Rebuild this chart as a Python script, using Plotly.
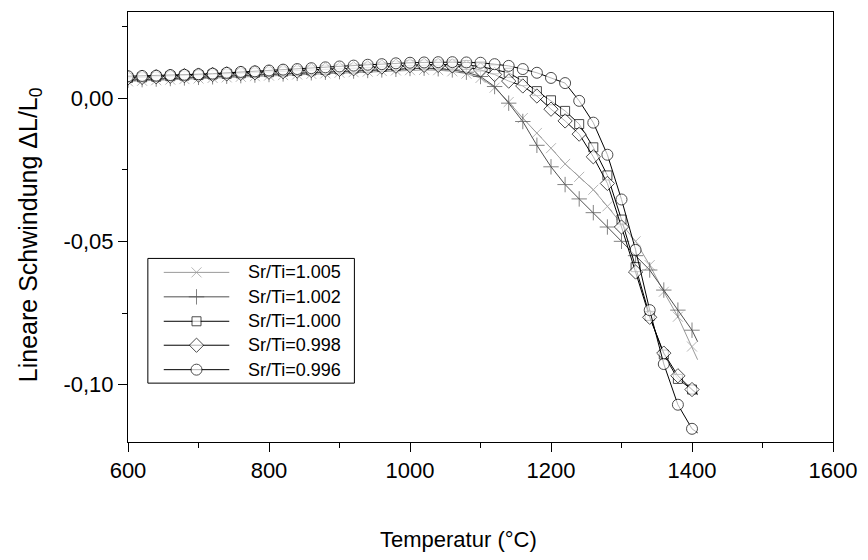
import plotly.graph_objects as go

temps = [600, 620, 640, 660, 680, 700, 720, 740, 760, 780, 800, 820, 840, 860, 880,
         900, 920, 940, 960, 980, 1000, 1020, 1040, 1060, 1080, 1100, 1120, 1140, 1160,
         1180, 1200, 1220, 1240, 1260, 1280, 1300, 1320, 1340, 1360, 1380, 1400, 1408]

s1005 = [.0058, .0060, .0062, .0064, .0066, .0068, .0070, .0072, .0074, .0076, .0078, .0080,
         .0082, .0084, .0086, .0088, .0090, .0092, .0094, .0096, .0097, .0098, .0097, .0093,
         .0085, .0070, .0036, -.0014, -.0070, -.0122, -.0175, -.0230, -.0275, -.0320, -.0378,
         -.0440, -.0500, -.0583, -.0676, -.0763, -.0867, -.0913]

s1002 = [.0062, .0064, .0066, .0068, .0070, .0072, .0074, .0076, .0078, .0080, .0082, .0084,
         .0086, .0088, .0090, .0092, .0094, .0096, .0098, .0100, .0103, .0104, .0102, .0098,
         .0090, .0075, .0040, -.0018, -.0082, -.0165, -.0240, -.0302, -.0352, -.0400, -.0450,
         -.0500, -.0550, -.0600, -.0670, -.0740, -.0810, -.0850]

s1000 = [.0070, .0072, .0074, .0076, .0078, .0080, .0082, .0084, .0086, .0088, .0090, .0092,
         .0094, .0096, .0098, .0100, .0103, .0106, .0109, .0112, .0115, .0116, .0117, .0117,
         .0115, .0110, .0100, .0088, .0059, .0024, -.0008, -.0045, -.0091, -.0172, -.0270,
         -.0424, -.0590, -.0760, -.0895, -.0980, -.1017, -.1030]

s0998 = [.0070, .0072, .0074, .0076, .0078, .0080, .0082, .0084, .0086, .0088, .0090, .0092,
         .0094, .0096, .0098, .0100, .0102, .0105, .0108, .0111, .0113, .0114, .0114, .0112,
         .0108, .0098, .0082, .0059, .0042, .0007, -.0039, -.0080, -.0126, -.0205, -.0298,
         -.0450, -.0607, -.0765, -.0890, -.0969, -.1017, -.1035]

s0996 = [.0076, .0077, .0078, .0080, .0081, .0083, .0085, .0088, .0091, .0093, .0096, .0099,
         .0101, .0104, .0107, .0110, .0113, .0116, .0118, .0121, .0123, .0124, .0125, .0125,
         .0124, .0123, .0118, .0112, .0101, .0088, .0070, .0052, -.0010, -.0086, -.0198,
         -.0354, -.0530, -.0740, -.0928, -.1070, -.1154, -.1168]

names = ["Sr/Ti=1.005", "Sr/Ti=1.002", "Sr/Ti=1.000", "Sr/Ti=0.998", "Sr/Ti=0.996"]
series = [s1005, s1002, s1000, s0998, s0996]

y_tickvals = [-0.10, -0.05, 0.00]
y_ticktext = ["-0,10", "-0,05", "0,00"]

x_title = "Temperatur (°C)"
y_title = "Lineare Schwindung ΔL/L<sub>0</sub>"

styles = [
    dict(color="#9a9a9a", symbol="x-thin", size=10, fill="#9a9a9a"),
    dict(color="#505050", symbol="cross-thin", size=11, fill="#505050"),
    dict(color="#000000", symbol="square", size=9, fill="white"),
    dict(color="#000000", symbol="diamond", size=11, fill="white"),
    dict(color="#000000", symbol="circle", size=11, fill="white"),
]

# plot-area geometry in pixels (used only to place legend and titles)
W, H = 868, 560
L, R, T, B = 128, 30, 11, 118
PW, PH = W - L - R, H - T - B


def px_x(p):
    return (p - L) / PW


def px_y(p):
    return (H - B - p) / PH


font = "Liberation Sans, Arial, sans-serif"
fig = go.Figure()
for name, ys, st in zip(names, series, styles):
    sizes = [st["size"] if t % 20 == 0 else 0 for t in temps]
    fig.add_trace(go.Scatter(
        x=temps, y=ys, name=name, mode="lines+markers", showlegend=False,
        line=dict(color=st["color"], width=1),
        marker=dict(symbol=st["symbol"], size=sizes, color=st["fill"],
                    line=dict(color=st["color"], width=1)),
    ))

# legend drawn on an overlay axis spanning the plot area (0..1)
leg_left, leg_top, leg_right, leg_bottom = 148, 258, 356, 383
row_y = [272, 296.5, 321, 345, 369.5]
fig.add_shape(type="rect", xref="paper", yref="paper",
              x0=px_x(leg_left), x1=px_x(leg_right), y0=px_y(leg_bottom), y1=px_y(leg_top),
              line=dict(color="black", width=1), fillcolor="rgba(0,0,0,0)", layer="below")
for name, st, ry in zip(names, styles, row_y):
    fig.add_trace(go.Scatter(
        x=[px_x(164), px_x(197), px_x(230)], y=[px_y(ry)] * 3,
        xaxis="x2", yaxis="y2", mode="lines+markers", showlegend=False, hoverinfo="skip",
        line=dict(color=st["color"], width=1),
        marker=dict(symbol=st["symbol"], size=[0, st["size"], 0], color=st["fill"],
                    line=dict(color=st["color"], width=1)),
    ))
    fig.add_annotation(x=px_x(247), y=px_y(ry), xref="paper", yref="paper",
                       text=name, showarrow=False, xanchor="left", yanchor="middle",
                       font=dict(size=18, family=font, color="black"))

# axis titles
fig.add_annotation(x=px_x(461), y=px_y(540), xref="paper", yref="paper",
                   text=x_title, showarrow=False, xanchor="center", yanchor="middle",
                   font=dict(size=22, family=font, color="black"))
fig.add_annotation(x=px_x(30), y=px_y(234), xref="paper", yref="paper",
                   text=y_title, showarrow=False, xanchor="center", yanchor="middle",
                   textangle=-90, font=dict(size=25, family=font, color="black"))

fig.update_layout(
    width=W, height=H,
    margin=dict(l=L, r=R, t=T, b=B),
    paper_bgcolor="white", plot_bgcolor="white",
    separators=",.",
    font=dict(family=font, size=22, color="black"),
    showlegend=False,
    xaxis=dict(
        range=[600, 1600], dtick=200, tick0=600,
        ticks="outside", ticklen=9, tickwidth=1, tickcolor="black",
        minor=dict(dtick=100, ticks="outside", ticklen=5, tickcolor="black"),
        showline=True, linecolor="black", linewidth=1, mirror=True,
        showgrid=False, zeroline=False,
        tickfont=dict(size=22),
    ),
    yaxis=dict(
        range=[-0.12, 0.03], tickmode="array", tickvals=y_tickvals, ticktext=y_ticktext,
        ticks="outside", ticklen=9, tickwidth=1, tickcolor="black",
        minor=dict(tickmode="linear", tick0=0, dtick=0.025, ticks="outside", ticklen=5,
                   tickcolor="black"),
        showline=True, linecolor="black", linewidth=1, mirror=True,
        showgrid=False, zeroline=False,
        tickfont=dict(size=22),
    ),
    xaxis2=dict(overlaying="x", range=[0, 1], visible=False, fixedrange=True),
    yaxis2=dict(overlaying="y", range=[0, 1], visible=False, fixedrange=True),
)
fig.write_html("out.html")
